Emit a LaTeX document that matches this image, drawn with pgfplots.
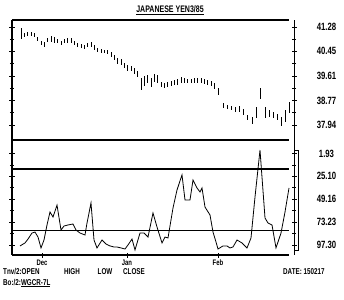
\documentclass[border=0pt]{standalone}
\usepackage{pgfplots}
\usepackage{pgfplotstable}
\pgfplotsset{compat=1.18}
\usepackage{fontspec}
\setmainfont{Liberation Sans}[FakeStretch=0.74]
\pgfplotstableread{
x lo hi
21 40.86 41.24
24 40.93 41.07
27 40.97 41.10
31 40.98 41.11
34 40.95 41.09
37 40.81 40.95
41 40.67 40.81
44 40.61 40.76
47 40.78 40.90
51 40.76 40.98
54 40.72 40.95
57 40.74 40.86
61 40.67 40.79
64 40.72 40.87
67 40.72 40.92
71 40.72 40.90
74 40.67 40.81
77 40.61 40.74
81 40.57 40.69
84 40.53 40.67
87 40.59 40.72
91 40.61 40.78
94 40.50 40.67
97 40.44 40.57
101 40.40 40.52
104 40.38 40.50
107 40.36 40.50
111 40.27 40.44
114 40.16 40.33
117 40.02 40.21
121 39.98 40.18
124 39.87 40.04
127 39.79 39.98
131 39.79 39.95
134 39.68 39.87
137 39.57 39.79
141 39.13 39.53
144 39.27 39.61
147 39.36 39.64
151 39.25 39.53
154 39.42 39.68
157 39.36 39.64
161 39.22 39.42
164 39.19 39.38
167 39.25 39.42
171 39.27 39.45
174 39.30 39.47
177 39.30 39.50
181 39.38 39.57
184 39.36 39.53
187 39.36 39.50
191 39.38 39.52
194 39.36 39.53
197 39.38 39.55
201 39.36 39.53
204 39.34 39.51
207 39.30 39.47
211 39.27 39.44
214 39.16 39.36
218 38.96 39.19
223 38.51 38.68
227 38.48 38.62
231 38.45 38.59
235 38.39 38.54
239 38.39 38.59
243 38.28 38.48
247 38.11 38.28
252 37.99 38.22
256 38.17 38.54
260 38.82 39.19
265 38.17 38.56
269 38.21 38.45
273 38.18 38.38
277 38.11 38.32
281 37.91 38.22
285 38.05 38.45
289 38.34 38.73
}\bars
\pgfplotstableread{
x v
20 97.9
25 94.8
28 90.7
32 84.4
35 83.4
38 88.6
41 100.0
44 91.7
47 76.0
50 62.5
53 67.7
57 55.2
61 81.3
64 77.1
68 76.0
73 75.0
76 81.3
80 84.4
85 86.5
87 74.0
91 53.1
94 91.7
97 100.0
102 91.7
106 95.9
110 97.9
114 99.0
117 99.0
121 100.0
125 101.1
128 96.9
132 90.7
135 102.1
140 84.4
144 84.4
148 88.6
153 63.5
157 78.1
162 94.8
165 88.6
168 89.6
173 58.3
177 39.5
182 23.8
185 49.9
190 49.9
193 29.1
197 37.4
200 41.6
202 37.4
205 57.3
210 65.6
213 83.4
216 93.8
218 101.1
223 97.9
227 97.9
230 100.0
233 99.0
237 91.7
242 94.8
247 100.0
251 89.6
255 46.8
260 -2.2
265 68.7
268 74.0
272 76.0
276 100.0
281 84.4
285 62.5
289 37.4
}\osc
\begin{document}
\begin{tikzpicture}[x=1pt,y=1pt]
\useasboundingbox (0,0) rectangle (344,299);
\node[font=\bfseries\fontsize{9.5}{10}\selectfont] at (170,289) {\underline{JAPANESE YEN3/85}};
% ---------- top panel
\begin{axis}[at={(12pt,159pt)}, anchor=south west, scale only axis,
  width=282pt, height=120pt, xmin=12, xmax=294, ymin=37.429, ymax=41.519,
  clip=false, separate axis lines, x axis line style={draw=none},
  y axis line style={line width=1pt},
  xtick=\empty, ytick pos=both, yticklabel pos=right,
  ytick={37.94,38.77,39.61,40.45,41.28},
  yticklabels={37.94,38.77,39.61,40.45,41.28},
  minor ytick={38.355,39.19,40.03,40.865},
  tick align=center, major tick length=5pt, minor tick length=4pt,
  every tick/.style={black, line width=1pt},
  yticklabel style={anchor=center, xshift=30pt, font=\bfseries\fontsize{10.5}{11}\selectfont}]
\addplot[draw=none, mark=none, error bars/.cd, y dir=both, y explicit, error mark=none,
  error bar style={line width=1pt, black}]
  table[x=x, y expr={(\thisrow{lo}+\thisrow{hi})/2}, y error expr={(\thisrow{hi}-\thisrow{lo})/2}] {\bars};
\draw[line width=1.2pt] (axis cs:12,41.519) -- (axis cs:289,41.519);
\draw[line width=1.2pt] (axis cs:12,37.429) -- (axis cs:289,37.429);
\end{axis}
% ---------- bottom panel
\begin{axis}[at={(12pt,44pt)}, anchor=south west, scale only axis,
  width=282pt, height=115pt, xmin=12, xmax=294, ymin=-12.68, ymax=107.36, y dir=reverse,
  clip=false, separate axis lines, x axis line style={draw=none},
  y axis line style={line width=1pt},
  xtick={42,127,218}, xticklabels={Dec,Jan,Feb}, xtick pos=bottom,
  xticklabel style={anchor=center, yshift=-5pt, font=\bfseries\fontsize{8}{9}\selectfont},
  ytick pos=both, yticklabel pos=right,
  ytick={1.93,25.10,49.16,73.23,97.30},
  yticklabels={1.93,25.10,49.16,73.23,97.30},
  minor ytick={13.5,37.13,61.2,85.27},
  tick align=center, major tick length=5pt, minor tick length=4pt,
  every tick/.style={black, line width=1pt},
  yticklabel style={anchor=center, xshift=30pt, font=\bfseries\fontsize{10.5}{11}\selectfont}]
\addplot[black, line width=0.8pt, mark=none] table[x=x, y=v] {\osc};
\addplot[black, line width=1.2pt, mark=none] coordinates {(12,17.6) (289,17.6)};
\addplot[black, line width=1.2pt, mark=none] coordinates {(12,82.0) (289,82.0)};
\draw[line width=1.2pt] (axis cs:12,107.36) -- (axis cs:289,107.36);
\end{axis}
% bracket at right of lower panel
\draw[line width=1pt] (295,148) -- (298.5,148) -- (298.5,48) -- (295,48);
% bottom legend text
\begin{scope}[every node/.style={font=\bfseries\fontsize{8.5}{9}\selectfont, inner sep=0pt}]
\node[anchor=west] at (3,27) {Tnv/2:OPEN};
\node at (72,27) {HIGH};
\node at (105,27) {LOW};
\node at (134,27) {CLOSE};
\node[anchor=west] at (3,16) {Bo:/2:\underline{WGCR-7L}};
\node[anchor=west] at (283,27) {DATE: 150217};
\end{scope}
\end{tikzpicture}
\end{document}
